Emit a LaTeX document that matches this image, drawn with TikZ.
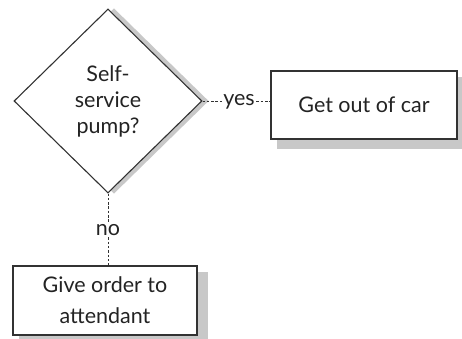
\documentclass[tikz,border=0pt]{standalone}
\usepackage{fontspec}
\setmainfont{Lato}
\usetikzlibrary{shapes.geometric,backgrounds}
\definecolor{linec}{RGB}{50,50,50}
\definecolor{textc}{RGB}{35,35,35}
\definecolor{shadowc}{RGB}{200,200,200}
\tikzset{
  x=1pt,y=1pt,
  lbl/.style={font=\fontsize{21.5}{26}\selectfont, text=textc, inner sep=1.5pt},
  decision/.style={diamond, draw=linec, line width=1.1pt, fill=white, inner sep=0pt,
    minimum width=188pt, minimum height=184pt, align=center, text=textc,
    font=\fontsize{21.5}{26}\selectfont},
  actbox/.style={rectangle, draw=linec, line width=1.1pt, fill=white, align=center,
    text=textc, font=\fontsize{21.5}{31}\selectfont},
  dashline/.style={draw=linec, line width=0.9pt, dash pattern=on 2.5pt off 1.8pt},
}
\begin{document}
\begin{tikzpicture}
\useasboundingbox (0,0) rectangle (462,339);
\node[decision] (d) at (108,238) {Self-\\service\\pump?};
\node[actbox, minimum width=186pt, minimum height=68pt] (car) at (364,234) {Get out of car};
\node[actbox, minimum width=184pt, minimum height=69pt] (att) at (105,38.5) {Give order to\\attendant};
\node[lbl, anchor=base] (yes) at (239,233) {yes};
\node[lbl] (no) at (108,109) {no};
\begin{scope}[on background layer]
  \fill[shadowc] ([xshift=6pt]d.north) -- ([xshift=6pt]d.east) -- ([xshift=6pt]d.south) -- ([xshift=6pt]d.west) -- cycle;
  \fill[shadowc] ([shift={(7pt,-7pt)}]car.north west) rectangle ([shift={(10pt,-9pt)}]car.south east);
  \fill[shadowc] ([shift={(7pt,-7pt)}]att.north west) rectangle ([shift={(10pt,-9pt)}]att.south east);
\end{scope}
\draw[dashline] (d.east) -- (yes.west |- d.east);
\draw[dashline] (yes.east |- d.east) -- (car.west |- d.east);
\draw[dashline] (d.south) -- (d.south |- no.north);
\draw[dashline] (d.south |- no.south) -- (d.south |- att.north);
\end{tikzpicture}
\end{document}
